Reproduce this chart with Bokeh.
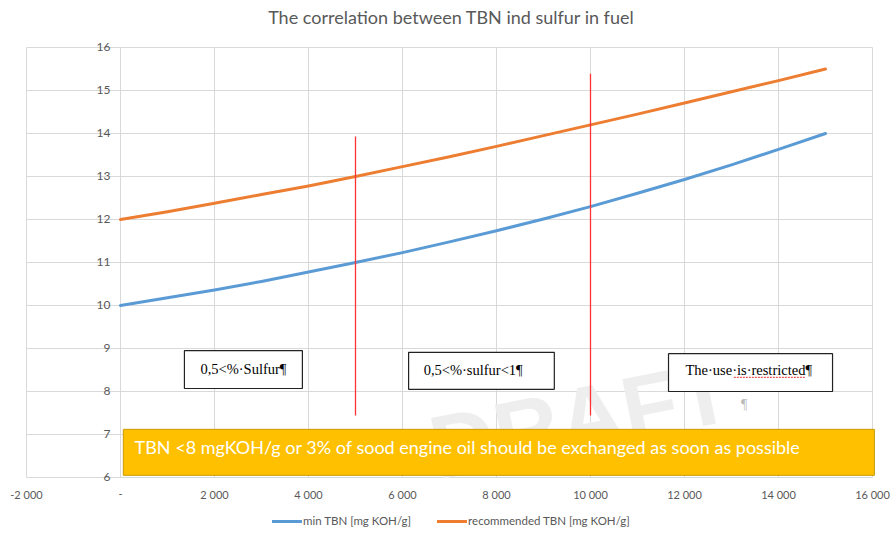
from bokeh.plotting import figure
from bokeh.models import Range1d, Legend, LegendItem
from bokeh.core.properties import value
from bokeh.embed import file_html
from bokeh.resources import INLINE

# ---- data ----
sulfur = [0, 1000, 2000, 3000, 4000, 5000, 6000, 7000, 8000,
          9000, 10000, 11000, 12000, 13000, 14000, 15000]
min_tbn = [10.0, 10.18, 10.36, 10.56, 10.78, 11.0, 11.23, 11.48, 11.74,
           12.01, 12.3, 12.61, 12.93, 13.27, 13.63, 14.0]
rec_tbn = [12.0, 12.18, 12.38, 12.58, 12.78, 13.0, 13.23, 13.46, 13.7,
           13.95, 14.2, 14.45, 14.71, 14.97, 15.23, 15.5]

x_ticks = [-2000, 0, 2000, 4000, 6000, 8000, 10000, 12000, 14000, 16000]
x_tick_labels = ["-2 000", "-", "2 000", "4 000", "6 000", "8 000",
                 "10 000", "12 000", "14 000", "16 000"]
y_ticks = [6, 7, 8, 9, 10, 11, 12, 13, 14, 15, 16]
y_tick_labels = [str(v) for v in y_ticks]

title_text = ["The correlation between TBN ind sulfur in fuel"]
title_pos = dict(x=[7040], y=[16.70])

limit_x = [5000, 10000]
limit_y0 = [7.44, 7.44]
limit_y1 = [13.93, 15.39]

zone_labels = ["0,5<%·Sulfur¶", "0,5<%·sulfur<1¶", "The·use·is·restricted¶"]
zone_left = [1360, 6130, 11660]
zone_right = [3870, 9230, 15150]
zone_top = [8.95, 8.91, 8.88]
zone_bottom = [8.07, 8.05, 8.0]
zone_text_x = [1700, 6450, 12020]
zone_text_y = [8.53, 8.51, 8.49]
spell_mark = dict(x0=[13050], x1=[14560], y=[8.33])

warning_text = ["TBN <8 mgKOH/g or 3% of sood engine oil should be exchanged as soon as possible"]
warning_box = dict(left=[60], right=[16040], top=[7.12], bottom=[6.05])
warning_pos = dict(x=[300], y=[6.70])

watermark = ["DRAFT"]
watermark_pos = dict(x=[6404], y=[7.79])
pilcrow_pos = dict(x=[13200], y=[7.7])

FONT = "Lato"
GREY = "#595959"
GRID = "#D9D9D9"

# frame covers the whole canvas; 0 at px 120, 0.047 px per unit, 43 px per TBN unit
p = figure(width=891, height=531, output_backend="svg", toolbar_location=None,
           x_range=Range1d(-2510.6, 16404.3), y_range=Range1d(4.744, 17.093),
           min_border_left=2, min_border_right=0, min_border_top=0,
           min_border_bottom=0)
p.outline_line_color = None
p.background_fill_color = "white"
p.border_fill_color = "white"
p.xaxis.visible = False
p.yaxis.visible = False
p.xgrid.visible = False
p.ygrid.visible = False

# title
p.text(x=title_pos["x"], y=title_pos["y"], text=title_text, text_align="center",
       text_baseline="middle", text_font=value(FONT), text_font_size="18px",
       text_color=GREY)

# grid lines (Excel style, limited to the plot area)
p.segment(x0=x_ticks, y0=[y_ticks[0]] * len(x_ticks), x1=x_ticks,
          y1=[y_ticks[-1]] * len(x_ticks), line_color=GRID, line_width=1)
p.segment(x0=[x_ticks[0]] * len(y_ticks), y0=y_ticks, x1=[x_ticks[-1]] * len(y_ticks),
          y1=y_ticks, line_color=GRID, line_width=1)

# tick labels
p.text(x=x_ticks, y=[y_ticks[0]] * len(x_ticks), text=x_tick_labels, y_offset=17,
       text_align="center", text_baseline="middle", text_font=value(FONT),
       text_font_size="11px", text_color=GREY)
p.text(x=[0] * len(y_ticks), y=y_ticks, text=y_tick_labels, x_offset=-10,
       text_align="right", text_baseline="middle", text_font=value(FONT),
       text_font_size="12px", text_color=GREY)

# watermark
p.text(x=watermark_pos["x"], y=watermark_pos["y"], text=watermark, angle=0.2,
       text_align="left", text_baseline="top", text_font=value("Liberation Sans"),
       text_font_style="bold", text_font_size="90px", text_color="#EEEEEE")

# lines
r_min = p.line(sulfur, min_tbn, line_color="#5B9BD5", line_width=3,
               line_join="round", line_cap="round")
r_rec = p.line(sulfur, rec_tbn, line_color="#ED7D31", line_width=3,
               line_join="round", line_cap="round")

# red limit lines
p.segment(x0=limit_x, y0=limit_y0, x1=limit_x, y1=limit_y1,
          line_color="#FF3333", line_width=1.3)

# zone boxes
p.quad(left=zone_left, right=zone_right, top=zone_top, bottom=zone_bottom,
       fill_color="white", line_color="#222222", line_width=1.2)
p.text(x=zone_text_x, y=zone_text_y, text=zone_labels, text_align="left",
       text_baseline="middle", text_font=value("Liberation Serif"),
       text_font_size="14.5px", text_color="black")
p.segment(x0=spell_mark["x0"], y0=spell_mark["y"], x1=spell_mark["x1"],
          y1=spell_mark["y"], line_color="#E03030", line_width=1, line_dash="2 1")
p.text(x=pilcrow_pos["x"], y=pilcrow_pos["y"], text=["¶"], text_align="left",
       text_baseline="middle", text_font=value("Liberation Serif"),
       text_font_size="14px", text_color="#BBBBBB")

# warning box
p.quad(**warning_box, fill_color="#FFC000", line_color="#C99A00", line_width=1)
p.text(x=warning_pos["x"], y=warning_pos["y"], text=warning_text,
       text_align="left", text_baseline="middle", text_font=value(FONT),
       text_font_size="18px", text_color="white")

# legend
legend = Legend(items=[LegendItem(label="min TBN [mg KOH/g]", renderers=[r_min]),
                       LegendItem(label="recommended TBN [mg KOH/g]", renderers=[r_rec])],
                orientation="horizontal", location=(270, 4),
                label_text_font=FONT, label_text_font_size="11.5px",
                label_text_color=GREY, glyph_width=30, glyph_height=12,
                label_height=12, label_standoff=1, spacing=26, padding=0,
                margin=0, border_line_color=None, background_fill_alpha=0)
p.add_layout(legend, "center")

open("out.html", "w").write(file_html(p, INLINE))
